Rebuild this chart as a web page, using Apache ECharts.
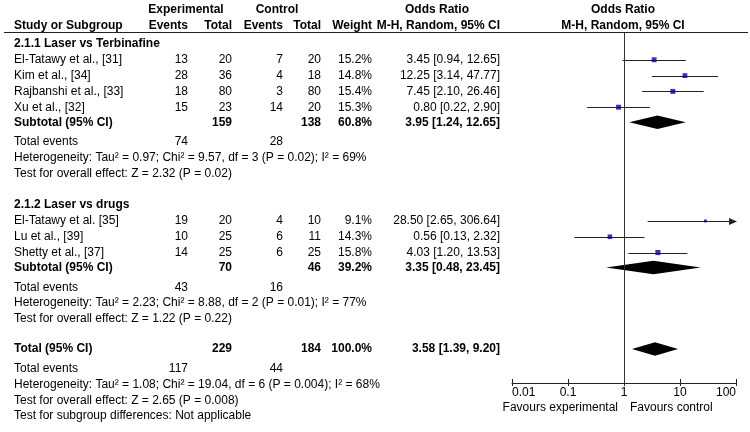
<!DOCTYPE html>
<html><head><meta charset="utf-8">
<script src="https://cdn.jsdelivr.net/npm/echarts@6/dist/echarts.min.js"></script>
<style>html,body{margin:0;padding:0;background:#fff}#c{width:750px;height:432px}</style>
</head><body><div id="c"></div>
<script>
// ---------------- DATA ----------------
const group1Title = '2.1.1 Laser vs Terbinafine';
const group1Studies = ['El-Tatawy et al., [31]', 'Kim et al., [34]', 'Rajbanshi et al., [33]', 'Xu et al., [32]'];
const group1ExpEvents = [13, 28, 18, 15];
const group1ExpTotal = [20, 36, 80, 23];
const group1CtlEvents = [7, 4, 3, 14];
const group1CtlTotal = [20, 18, 80, 20];
const group1Weight = [15.2, 14.8, 15.4, 15.3];
const group1OR = [3.45, 12.25, 7.45, 0.80];
const group1Low = [0.94, 3.14, 2.10, 0.22];
const group1High = [12.65, 47.77, 26.46, 2.90];

const group2Title = '2.1.2 Laser vs drugs';
const group2Studies = ['El-Tatawy et al. [35]', 'Lu et al., [39]', 'Shetty et al., [37]'];
const group2ExpEvents = [19, 10, 14];
const group2ExpTotal = [20, 25, 25];
const group2CtlEvents = [4, 6, 6];
const group2CtlTotal = [10, 11, 25];
const group2Weight = [9.1, 14.3, 15.8];
const group2OR = [28.50, 0.56, 4.03];
const group2Low = [2.65, 0.13, 1.20];
const group2High = [306.64, 2.32, 13.53];

// summaries: [group1 subtotal, group2 subtotal, overall total]
const summaryLabels = ['Subtotal (95% CI)', 'Subtotal (95% CI)', 'Total (95% CI)'];
const summaryExpTotal = [159, 70, 229];
const summaryCtlTotal = [138, 46, 184];
const summaryWeight = [60.8, 39.2, 100.0];
const summaryOR = [3.95, 3.35, 3.58];
const summaryLow = [1.24, 0.48, 1.39];
const summaryHigh = [12.65, 23.45, 9.20];
const summaryExpEvents = [74, 43, 117];
const summaryCtlEvents = [28, 16, 44];
const summaryHeterogeneity = [
  'Heterogeneity: Tau\u00b2 = 0.97; Chi\u00b2 = 9.57, df = 3 (P = 0.02); I\u00b2 = 69%',
  'Heterogeneity: Tau\u00b2 = 2.23; Chi\u00b2 = 8.88, df = 2 (P = 0.01); I\u00b2 = 77%',
  'Heterogeneity: Tau\u00b2 = 1.08; Chi\u00b2 = 19.04, df = 6 (P = 0.004); I\u00b2 = 68%'
];
const summaryOverall = [
  'Test for overall effect: Z = 2.32 (P = 0.02)',
  'Test for overall effect: Z = 1.22 (P = 0.22)',
  'Test for overall effect: Z = 2.65 (P = 0.008)'
];
const subgroupTest = 'Test for subgroup differences: Not applicable';

const axisTicks = [0.01, 0.1, 1, 10, 100];
const favoursLeft = 'Favours experimental';
const favoursRight = 'Favours control';

// ---------------- LAYOUT ----------------
const FONT = '"Liberation Sans", Arial, Helvetica, sans-serif';
const COL = {study: 14, expEv: 188, expTot: 232, ctlEv: 283, ctlTot: 321, weight: 372, or: 500};
const ROW0_PX = 44, ROW_PX = 15.8, GRID_TOP = 33, AXIS_Y = 383;
const PLOT_LEFT = 512, PLOT_RIGHT = 736;
const Y_MIN = (GRID_TOP - ROW0_PX) / ROW_PX;
const Y_MAX = (AXIS_Y - ROW0_PX) / ROW_PX;
const AX_MIN = axisTicks[0], AX_MAX = axisTicks[axisTicks.length - 1];

const fmtOR = (o, l, h) => o.toFixed(2) + ' [' + l.toFixed(2) + ', ' + h.toFixed(2) + ']';
const fmtW = w => w.toFixed(1) + '%';

const tableRows = [];   // {u, bold, cells:[{col,text}]}
const studyMarks = [];  // [or, u, weight]
const ciLines = [];     // [lo, hi, u]
const diamonds = [];    // [lo, est, hi, u]

let u = 0;
function addGroup(gi, title, names, ee, et, ce, ct, w, or, lo, hi) {
  tableRows.push({u, bold: true, cells: [{col: 'study', text: title}]});
  names.forEach((n, i) => {
    u += 1;
    tableRows.push({u, bold: false, cells: [
      {col: 'study', text: n}, {col: 'expEv', text: String(ee[i])}, {col: 'expTot', text: String(et[i])},
      {col: 'ctlEv', text: String(ce[i])}, {col: 'ctlTot', text: String(ct[i])},
      {col: 'weight', text: fmtW(w[i])}, {col: 'or', text: fmtOR(or[i], lo[i], hi[i])}]});
    studyMarks.push([or[i], u, w[i]]);
    ciLines.push([lo[i], hi[i], u]);
  });
  u += 0.95;
  addSummary(gi);
}
function addSummary(gi) {
  tableRows.push({u, bold: true, cells: [
    {col: 'study', text: summaryLabels[gi]}, {col: 'expTot', text: String(summaryExpTotal[gi])},
    {col: 'ctlTot', text: String(summaryCtlTotal[gi])}, {col: 'weight', text: fmtW(summaryWeight[gi])},
    {col: 'or', text: fmtOR(summaryOR[gi], summaryLow[gi], summaryHigh[gi])}]});
  diamonds.push([summaryLow[gi], summaryOR[gi], summaryHigh[gi], u]);
  u += 1.25;
  tableRows.push({u, bold: false, cells: [{col: 'study', text: 'Total events'},
    {col: 'expEv', text: String(summaryExpEvents[gi])}, {col: 'ctlEv', text: String(summaryCtlEvents[gi])}]});
  u += 1;
  tableRows.push({u, bold: false, cells: [{col: 'study', text: summaryHeterogeneity[gi]}]});
  u += 1;
  tableRows.push({u, bold: false, cells: [{col: 'study', text: summaryOverall[gi]}]});
}
addGroup(0, group1Title, group1Studies, group1ExpEvents, group1ExpTotal, group1CtlEvents, group1CtlTotal, group1Weight, group1OR, group1Low, group1High);
u += 2;
addGroup(1, group2Title, group2Studies, group2ExpEvents, group2ExpTotal, group2CtlEvents, group2CtlTotal, group2Weight, group2OR, group2Low, group2High);
u += 1.9;
addSummary(2);
u += 0.95;
tableRows.push({u, bold: false, cells: [{col: 'study', text: subgroupTest}]});

function txt(x, y, s, align, bold) {
  return {type: 'text', x, y, silent: true,
    style: {text: s, align, verticalAlign: 'middle', fontSize: 12, fontWeight: bold ? 'bold' : 'normal',
      fontFamily: FONT, fill: '#000'}};
}
const crisp = v => Math.round(v) + 0.5;

const chart = echarts.init(document.getElementById('c'), null, {renderer: 'canvas'});
const headers = [
  txt(186, 10, 'Experimental', 'center', true),
  txt(277, 10, 'Control', 'center', true),
  txt(COL.study, 26, 'Study or Subgroup', 'left', true),
  txt(COL.expEv, 26, 'Events', 'right', true),
  txt(COL.expTot, 26, 'Total', 'right', true),
  txt(COL.ctlEv, 26, 'Events', 'right', true),
  txt(COL.ctlTot, 26, 'Total', 'right', true),
  txt(COL.weight, 26, 'Weight', 'right', true),
  txt(437, 10, 'Odds Ratio', 'center', true),
  txt(COL.or, 26, 'M-H, Random, 95% CI', 'right', true),
  txt(623, 10, 'Odds Ratio', 'center', true),
  txt(623, 26, 'M-H, Random, 95% CI', 'center', true),
  {type: 'line', shape: {x1: 4, y1: 32.5, x2: 748, y2: 32.5}, style: {stroke: '#222', lineWidth: 1}, silent: true},
  txt(618, 408, favoursLeft, 'right', false),
  txt(630, 408, favoursRight, 'left', false)
];

const logAxisBase = {type: 'log', logBase: 10, min: AX_MIN, max: AX_MAX, splitNumber: axisTicks.length - 1, gridIndex: 0,
  splitLine: {show: false}};

chart.setOption({
  animation: false,
  backgroundColor: '#fff',
  textStyle: {fontFamily: FONT},
  grid: [
    {left: PLOT_LEFT, right: 750 - PLOT_RIGHT, top: GRID_TOP, bottom: 432 - AXIS_Y},
    {left: 0, right: 0, top: GRID_TOP, bottom: 432 - AXIS_Y}
  ],
  xAxis: [
    Object.assign({}, logAxisBase, {
      position: 'bottom',
      axisLine: {show: true, onZero: false, lineStyle: {color: '#222', width: 1}},
      axisTick: {show: true, inside: true, length: 4, lineStyle: {color: '#222'}},
      axisLabel: {show: true, margin: 4, color: '#000', fontSize: 12, fontFamily: FONT,
        alignMinLabel: 'left', alignMaxLabel: 'right',
        formatter: v => String(Number(v.toPrecision(6)))}
    }),
    Object.assign({}, logAxisBase, {
      position: 'top', offset: -(AXIS_Y - GRID_TOP),
      axisLine: {show: false, onZero: false},
      axisTick: {show: true, inside: true, length: 3, lineStyle: {color: '#222'}},
      axisLabel: {show: false}
    }),
    {type: 'value', gridIndex: 1, min: 0, max: 750, show: false}
  ],
  yAxis: [
    {type: 'value', gridIndex: 0, inverse: true, min: Y_MIN, max: Y_MAX, show: false},
    {type: 'value', gridIndex: 1, inverse: true, min: Y_MIN, max: Y_MAX, show: false}
  ],
  graphic: headers,
  series: [
    {
      type: 'custom', name: 'table', xAxisIndex: 2, yAxisIndex: 1, clip: false, silent: true,
      data: tableRows.map(r => [0, r.u]),
      encode: {x: 0, y: 1},
      renderItem: (params, api) => {
        const r = tableRows[params.dataIndex];
        const y = api.coord([0, api.value(1)])[1];
        return {type: 'group', children: r.cells.map(c =>
          txt(COL[c.col], y, c.text, c.col === 'study' ? 'left' : 'right', r.bold))};
      }
    },
    {
      type: 'custom', name: 'ci', xAxisIndex: 0, yAxisIndex: 0, clip: false, silent: true, z: 2,
      data: ciLines,
      encode: {x: [0, 1], y: 2},
      renderItem: (params, api) => {
        const lo = api.value(0), hi = api.value(1), uu = api.value(2);
        const p1 = api.coord([Math.max(lo, AX_MIN), uu]);
        const p2 = api.coord([Math.min(hi, AX_MAX), uu]);
        const y = crisp(p1[1]);
        const ch = [{type: 'line', shape: {x1: p1[0], y1: y, x2: p2[0], y2: y}, style: {stroke: '#222', lineWidth: 1}}];
        if (hi > AX_MAX) ch.push({type: 'polygon', shape: {points: [[p2[0] + 1, y], [p2[0] - 7, y - 3.5], [p2[0] - 7, y + 3.5]]},
          style: {fill: '#222'}});
        return {type: 'group', children: ch};
      }
    },
    {
      type: 'scatter', name: 'studies', xAxisIndex: 0, yAxisIndex: 0, z: 3, silent: true,
      symbol: 'rect', symbolSize: d => d[2] / 3.1,
      itemStyle: {color: '#0000a0'},
      data: studyMarks,
      markLine: {silent: true, symbol: 'none', label: {show: false},
        lineStyle: {color: '#333', width: 1, type: 'solid'}, data: [{xAxis: 1}]}
    },
    {
      type: 'custom', name: 'diamonds', xAxisIndex: 0, yAxisIndex: 0, clip: false, silent: true, z: 3,
      data: diamonds,
      encode: {x: [0, 1, 2], y: 3},
      renderItem: (params, api) => {
        const uu = api.value(3);
        const a = api.coord([api.value(0), uu]), b = api.coord([api.value(1), uu]), c = api.coord([api.value(2), uu]);
        const h = 6.8;
        return {type: 'polygon', shape: {points: [[a[0], a[1]], [b[0], b[1] - h], [c[0], c[1]], [b[0], b[1] + h]]},
          style: {fill: '#000'}};
      }
    }
  ]
});
</script>
</body></html>
